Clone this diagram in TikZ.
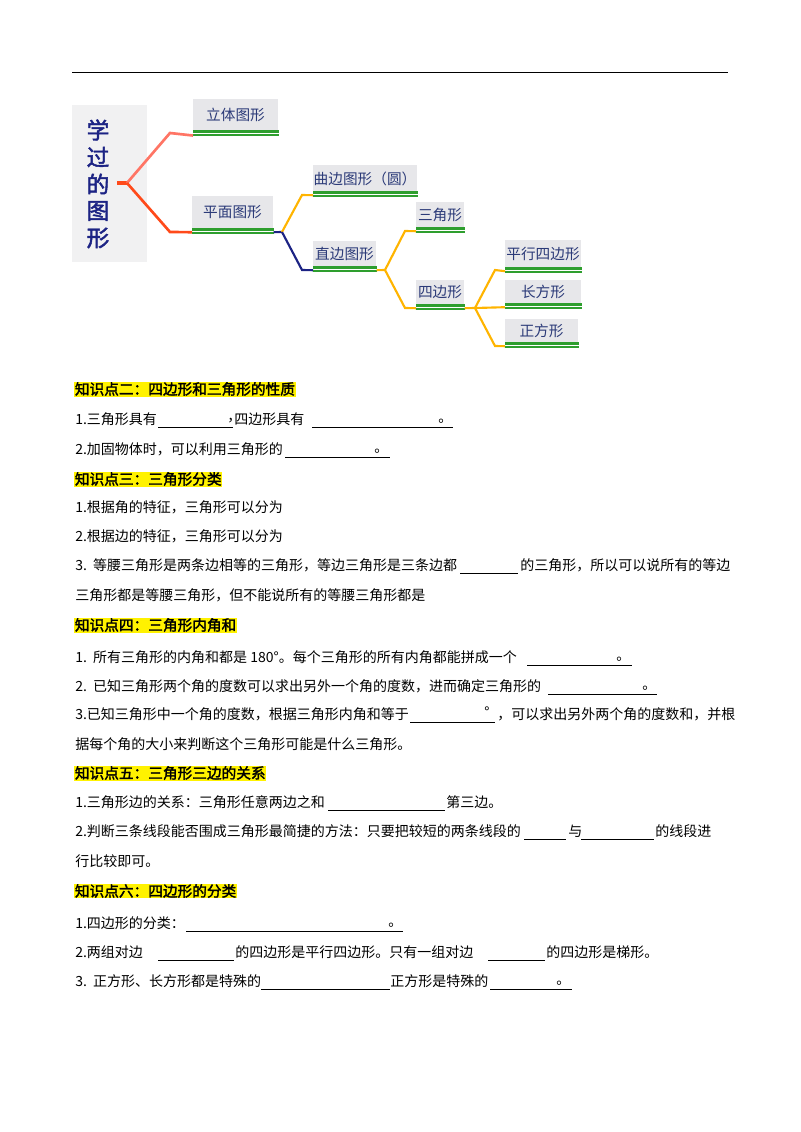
\documentclass[tikz,border=0pt]{standalone}
\usepackage{fontspec}
\setmainfont{Noto Sans CJK SC}[AutoFakeBold=2]
\begin{document}
\begin{tikzpicture}[x=0.75pt,y=-0.75pt,
  mb/.style={fill=boxgray,inner sep=0,anchor=north west},
  tx/.style={anchor=west,inner sep=0,font=\fontsize{10.5}{12}\selectfont},
  hd/.style={anchor=west,inner sep=0.5pt,fill=yellow,font=\fontsize{11}{12}\selectfont\bfseries},
  bl/.style={line width=0.6pt},
  cy/.style={line width=1.6pt,draw=myyel},
  cn/.style={line width=1.6pt,draw=mynavy}]
\definecolor{boxgray}{HTML}{E7E7EA}
\definecolor{boxtxt}{HTML}{2B3A78}
\definecolor{myyel}{HTML}{FFB400}
\definecolor{mynavy}{HTML}{1C2384}
\definecolor{mygreen}{HTML}{2E9E2E}
\definecolor{lred}{HTML}{FF7565}
\definecolor{dred}{HTML}{FF4A1A}
\useasboundingbox (0,0) rectangle (800,1132);
\draw[line width=0.6pt] (72,72) -- (728,72);
% title box
\node[fill=boxgray!60,inner sep=0,anchor=north west,minimum width=75*0.75pt,minimum height=157*0.75pt] (T) at (72,105) {};
\foreach \c[count=\i] in {学,过,的,图,形}
  \node[text=mynavy,font=\fontsize{17}{17}\selectfont\bfseries] (t\i) at (98,103+\i*27) {\c};
% boxes
\foreach \n/\xa/\ya/\xb/\yb/\t in {b1/193/99/278/135/立体图形, b2/192/196/273/233/平面图形, b3/313/165/417/196/曲边图形（圆）, b4/313/241/376/271/直边图形, b5/416/202/464/232/三角形, b6/416/280/464/309/四边形, b7/505/240/581/272/平行四边形, b8/505/280/581/308/长方形, b9/505/319/578/347/正方形}{
  \node[mb,minimum width={(\xb-\xa)*0.75pt},minimum height={(\yb-\ya)*0.75pt}] (\n) at (\xa,\ya) {};
  \node[text=boxtxt,font=\fontsize{11}{11}\selectfont,inner sep=0] at ({(\xa+\xb)/2},{(\ya+\yb)/2-2}) {\t};
  \fill[mygreen] ([yshift=-0.7pt]\n.south west) rectangle ([yshift=4pt]\n.south east);
  \fill[white] ([yshift=1.1pt]\n.south west) rectangle ([yshift=2.2pt]\n.south east);
}
% connectors
\coordinate (r0) at (117,183); \coordinate (r1) at (127,183);
\draw[line width=3pt,draw=dred] (r0) -- (r1);
\draw[line width=2pt,draw=lred] (r1) -- (170,133) -- (b1.south west);
\draw[line width=2pt,draw=dred] (r1) -- (170,232) -- ([yshift=1pt]b2.south west);
\coordinate (p0) at (282,232);
\draw[cn] ([yshift=1pt]b2.south east) -- (p0);
\draw[cy] (p0) -- (302,195) -- ([yshift=1pt]b3.south west);
\draw[cn] (p0) -- (302,270) -- ([yshift=1pt]b4.south west);
\coordinate (s0) at (385,270);
\draw[cy] ([yshift=1pt]b4.south east) -- (s0) -- (405,231) -- ([yshift=1pt]b5.south west);
\draw[cy] (s0) -- (405,308) -- ([yshift=1pt]b6.south west);
\coordinate (q0) at (475,308);
\draw[cy] ([yshift=1pt]b6.south east) -- (q0) -- (495,270) -- ([yshift=1pt]b7.south west);
\draw[cy] (q0) -- ([yshift=1pt]b8.south west);
\draw[cy] (q0) -- (495,346) -- ([yshift=1pt]b9.south west);
% text
\node[hd] (h2) at (74,389) {知识点二：四边形和三角形的性质};
\node[tx] (a1) at (75,419) {1.三角形具有}; \draw[bl] (158,427) -- (233,427); \node[tx] at (227,421) {，};
\node[tx] (a1b) at (234,419) {四边形具有}; \draw[bl] (312,427) -- (453,427); \node[tx] at (438,421) {。};
\node[tx] (a2) at (75,449) {2.加固物体时，可以利用三角形的}; \draw[bl] (285,457) -- (390,457); \node[tx] at (374,451) {。};
\node[hd] (h3) at (74,479) {知识点三：三角形分类};
\node[tx] at (75,507) {1.根据角的特征，三角形可以分为};
\node[tx] at (75,536) {2.根据边的特征，三角形可以分为};
\node[tx] at (75,565) {3.\ \ 等腰三角形是两条边相等的三角形，等边三角形是三条边都}; \draw[bl] (460,573) -- (518,573);
\node[tx] at (520,565) {的三角形，所以可以说所有的等边};
\node[tx] at (75,595) {三角形都是等腰三角形，但不能说所有的等腰三角形都是};
\node[hd] (h4) at (74,625) {知识点四：三角形内角和};
\node[tx] at (75,657) {1.\ \ 所有三角形的内角和都是 180°。每个三角形的所有内角都能拼成一个}; \draw[bl] (527,665) -- (632,665); \node[tx] at (616,659) {。};
\node[tx] at (75,686) {2.\ \ 已知三角形两个角的度数可以求出另外一个角的度数，进而确定三角形的}; \draw[bl] (548,694) -- (657,694); \node[tx] at (642,688) {。};
\node[tx] at (75,714) {3.已知三角形中一个角的度数，根据三角形内角和等于}; \draw[bl] (410,722) -- (495,722); \node[tx] at (484,712) {°};
\node[tx] at (497,714) {，可以求出另外两个角的度数和，并根};
\node[tx] at (75,744) {据每个角的大小来判断这个三角形可能是什么三角形。};
\node[hd] (h5) at (74,773) {知识点五：三角形三边的关系};
\node[tx] at (75,802) {1.三角形边的关系：三角形任意两边之和}; \draw[bl] (328,810) -- (445,810); \node[tx] at (446,802) {第三边。};
\node[tx] at (75,831) {2.判断三条线段能否围成三角形最简捷的方法：只要把较短的两条线段的}; \draw[bl] (524,839) -- (566,839);
\node[tx] at (568,831) {与}; \draw[bl] (581,839) -- (654,839); \node[tx] at (655,831) {的线段进};
\node[tx] at (75,861) {行比较即可。};
\node[hd] (h6) at (74,891) {知识点六：四边形的分类};
\node[tx] at (75,923) {1.四边形的分类：}; \draw[bl] (186,931) -- (403,931); \node[tx] at (388,925) {。};
\node[tx] at (75,952) {2.两组对边}; \draw[bl] (158,960) -- (234,960); \node[tx] at (235,952) {的四边形是平行四边形。只有一组对边};
\draw[bl] (488,960) -- (545,960); \node[tx] at (546,952) {的四边形是梯形。};
\node[tx] at (75,981) {3.\ \ 正方形、长方形都是特殊的}; \draw[bl] (261,989) -- (390,989); \node[tx] at (390,981) {正方形是特殊的};
\draw[bl] (490,989) -- (572,989); \node[tx] at (556,983) {。};
\end{tikzpicture}
\end{document}
